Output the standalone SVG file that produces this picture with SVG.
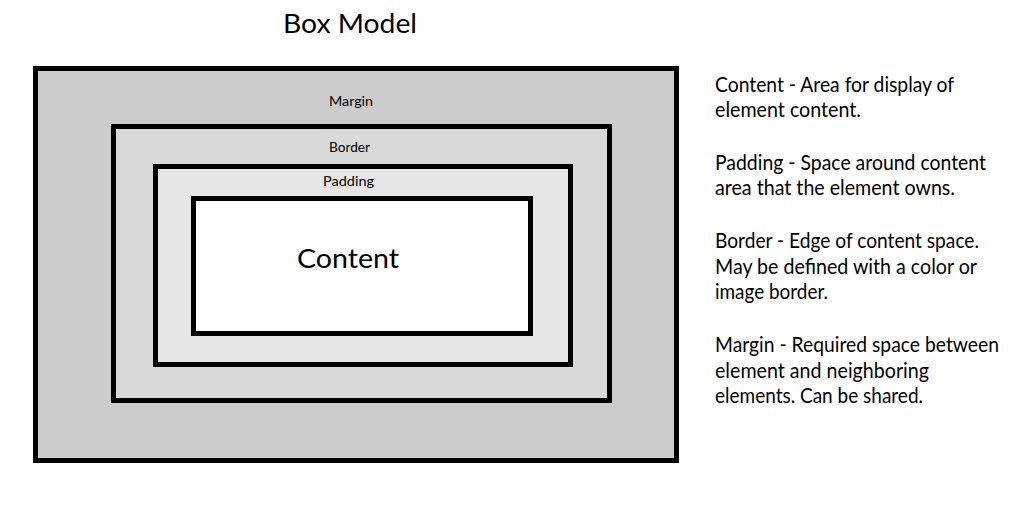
<svg xmlns="http://www.w3.org/2000/svg" width="1021" height="513" viewBox="0 0 1021 513">
<style>
.box{stroke:#000;stroke-width:5}
.t{font-family:Lato,"Liberation Sans",sans-serif;fill:#000}
.lab{font-size:13.5px}
.big{font-size:26.5px}
.desc{font-size:20.5px}
</style>
<rect width="1021" height="513" fill="#fff"/>
<text class="t big" x="283" y="33" textLength="134" lengthAdjust="spacingAndGlyphs">Box Model</text>
<g id="margin">
<rect class="box" x="35.5" y="68.5" width="641" height="392" fill="#cccccc"/>
<text class="t lab" x="329" y="106" textLength="44" lengthAdjust="spacingAndGlyphs">Margin</text>
</g>
<g id="border">
<rect class="box" x="113.5" y="126.5" width="496" height="274" fill="#d9d9d9"/>
<text class="t lab" x="329" y="152" textLength="41" lengthAdjust="spacingAndGlyphs">Border</text>
</g>
<g id="padding">
<rect class="box" x="155.5" y="166.5" width="415" height="198" fill="#e5e5e5"/>
<text class="t lab" x="323" y="186" textLength="51" lengthAdjust="spacingAndGlyphs">Padding</text>
</g>
<g id="content">
<rect class="box" x="193.5" y="198.5" width="337" height="135" fill="#ffffff"/>
<text class="t big" x="297" y="268" textLength="102" lengthAdjust="spacingAndGlyphs">Content</text>
</g>
<g id="connectors"></g>
<g id="descriptions" class="t desc">
<text x="715" y="92" textLength="239" lengthAdjust="spacingAndGlyphs">Content - Area for display of</text>
<text x="715" y="117" textLength="146" lengthAdjust="spacingAndGlyphs">element content.</text>
<text x="715" y="170" textLength="271" lengthAdjust="spacingAndGlyphs">Padding - Space around content</text>
<text x="715" y="195" textLength="240" lengthAdjust="spacingAndGlyphs">area that the element owns.</text>
<text x="715" y="248" textLength="264" lengthAdjust="spacingAndGlyphs">Border - Edge of content space.</text>
<text x="715" y="274" textLength="262" lengthAdjust="spacingAndGlyphs">May be defined with a color or</text>
<text x="715" y="299" textLength="113" lengthAdjust="spacingAndGlyphs">image border.</text>
<text x="715" y="352" textLength="284" lengthAdjust="spacingAndGlyphs">Margin - Required space between</text>
<text x="715" y="378" textLength="214" lengthAdjust="spacingAndGlyphs">element and neighboring</text>
<text x="715" y="403" textLength="208" lengthAdjust="spacingAndGlyphs">elements. Can be shared.</text>
</g>
</svg>
